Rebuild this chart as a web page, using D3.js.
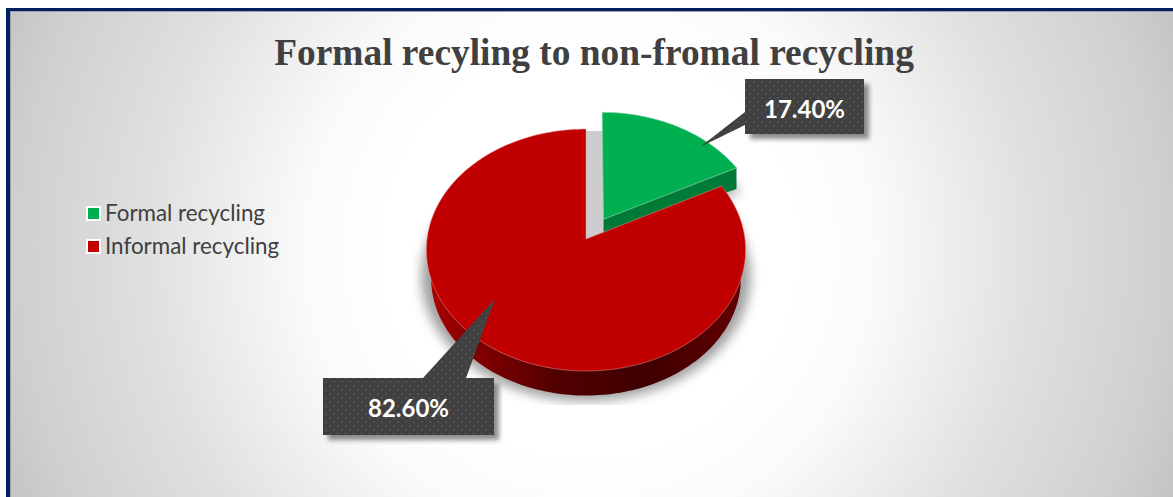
<!DOCTYPE html>
<html>
<head>
<meta charset="utf-8">
<script src="https://cdn.jsdelivr.net/npm/d3@7"></script>
<style>
  html, body { margin: 0; padding: 0; background: #fff; overflow: hidden; }
  svg { display: block; }
</style>
</head>
<body>
<svg id="chart" width="1173" height="497"></svg>
<script>
const chartTitle = "Formal recyling to non-fromal recycling";
const categories = ["Formal recycling", "Informal recycling"];
const shares = [17.4, 82.6];
const faceColors = ["#00b050", "#c00000"];
const wallColors = ["#007a37", "#500000"];

const svg = d3.select("#chart");
const defs = svg.append("defs");

// Panel background: pale centre fading to grey corners
const bg = defs.append("radialGradient").attr("id", "panelFill")
  .attr("gradientUnits", "userSpaceOnUse")
  .attr("cx", 590).attr("cy", 250).attr("r", 640);
[[0.32, "#ffffff"], [0.45, "#fafafa"], [0.69, "#e0e0e0"], [0.9, "#cfcfcf"], [1, "#c2c2c2"]]
  .forEach(([o, c]) => bg.append("stop").attr("offset", o).attr("stop-color", c));

// Side wall of the large slice, lit from the left
const wall = defs.append("linearGradient").attr("id", "redWall")
  .attr("gradientUnits", "userSpaceOnUse")
  .attr("x1", 426).attr("x2", 746).attr("y1", 0).attr("y2", 0);
[[0, "#b00000"], [0.12, "#8a0000"], [0.4, "#520000"], [0.7, "#3f0000"], [1, "#640000"]]
  .forEach(([o, c]) => wall.append("stop").attr("offset", o).attr("stop-color", c));

defs.append("filter").attr("id", "softShadow")
  .attr("x", "-20%").attr("y", "-20%").attr("width", "140%").attr("height", "140%")
  .append("feGaussianBlur").attr("stdDeviation", 6);
defs.append("filter").attr("id", "boxShadow")
  .attr("x", "-20%").attr("y", "-30%").attr("width", "140%").attr("height", "160%")
  .append("feGaussianBlur").attr("stdDeviation", 2.5);

// Dotted fill for the callouts
const dots = defs.append("pattern").attr("id", "dotFill")
  .attr("patternUnits", "userSpaceOnUse").attr("width", 8).attr("height", 8);
dots.append("rect").attr("width", 8).attr("height", 8).attr("fill", "#404040");
dots.append("circle").attr("cx", 2).attr("cy", 2).attr("r", 0.9).attr("fill", "#585858");
dots.append("circle").attr("cx", 6).attr("cy", 6).attr("r", 0.9).attr("fill", "#585858");

defs.append("clipPath").attr("id", "shadowClip")
  .append("rect").attr("x", 380).attr("y", 100).attr("width", 420).attr("height", 305);

// Panel and its navy frame (top and left only)
svg.append("rect").attr("x", 6).attr("y", 8).attr("width", 1167).attr("height", 489).attr("fill", "url(#panelFill)");
svg.append("rect").attr("x", 6).attr("y", 8).attr("width", 1167).attr("height", 3).attr("fill", "#002060");
svg.append("rect").attr("x", 6).attr("y", 8).attr("width", 4).attr("height", 489).attr("fill", "#002060");
svg.append("rect").attr("x", 10).attr("y", 11).attr("width", 1163).attr("height", 1).attr("fill", "#9aa3b5");
svg.append("rect").attr("x", 10).attr("y", 11).attr("width", 1).attr("height", 486).attr("fill", "#9aa3b5");

svg.append("text")
  .attr("x", 594).attr("y", 65).attr("text-anchor", "middle")
  .attr("font-family", "'Liberation Serif', serif").attr("font-weight", 700)
  .attr("font-size", 37.4).attr("fill", "#404040")
  .text(chartTitle);

// Legend
const legend = svg.append("g").selectAll("g").data(categories).join("g")
  .attr("transform", (d, i) => `translate(86,${206 + i * 33})`);
legend.append("rect").attr("width", 15).attr("height", 15).attr("fill", "#fff");
legend.append("rect").attr("x", 2).attr("y", 2).attr("width", 11).attr("height", 11)
  .attr("fill", (d, i) => faceColors[i]);
legend.append("text")
  .attr("x", 19).attr("y", 14.5)
  .attr("font-family", "Lato, sans-serif").attr("font-size", 22.4).attr("fill", "#404040")
  .text(d => d);

// Pie geometry: a tilted disc under perspective
const apex = { x: 586, y: 239 };
const radius = 159, tilt = 120, perspective = 0.0909, explode = 0.19;
const greenNudge = [2, -0.5];

function project(u, v) {
  const w = 1 + perspective * v;
  return [apex.x + radius * u / w, apex.y - tilt * v / w];
}

const arcs = d3.pie().sort(null).value(d => d)(shares);
// Outline of a slice in disc coordinates, from its apex round the rim
function sliceOutline(a, offset) {
  const n = Math.max(8, Math.ceil((a.endAngle - a.startAngle) * 40));
  const pts = [[offset[0], offset[1]]];
  d3.range(n + 1).forEach(i => {
    const t = a.startAngle + (a.endAngle - a.startAngle) * i / n;
    pts.push([offset[0] + Math.sin(t), offset[1] + Math.cos(t)]);
  });
  return pts;
}
const line = d3.line();
const closed = pts => line(pts) + "Z";

const mid = a => (a.startAngle + a.endAngle) / 2;
const greenOffset = [explode * Math.sin(mid(arcs[0])), explode * Math.cos(mid(arcs[0]))];
const greenOutline = sliceOutline(arcs[0], greenOffset);
const redOutline = sliceOutline(arcs[1], [0, 0]);
const greenTop = greenOutline.map(p => {
  const q = project(p[0], p[1]);
  return [q[0] + greenNudge[0], q[1] + greenNudge[1]];
});
const redTop = redOutline.map(p => project(p[0], p[1]));

// Lower rim of the large slice: slightly smaller and shifted down
const baseScale = 0.97, baseDrop = 28.5;
const redBase = redTop.map(p => [apex.x + (p[0] - apex.x) * baseScale, apex.y + baseDrop + (p[1] - apex.y) * baseScale]);

// Soft cast shadow below the pie
const shadowPts = redTop.map(p => [apex.x + (p[0] - apex.x) * 1.03, apex.y + 26 + (p[1] - apex.y) * 1.03]);
svg.append("g").attr("clip-path", "url(#shadowClip)")
  .append("path").attr("d", closed(shadowPts))
  .attr("fill", "#000").attr("opacity", 0.38).attr("filter", "url(#softShadow)");
svg.append("path")
  .attr("d", closed(greenTop.map(p => [p[0] + 5, p[1] + 24])))
  .attr("fill", "#000").attr("opacity", 0.3).attr("filter", "url(#softShadow)");

// Grey gap between the separated slice and the main body
const greenApex = greenTop[0], redApex = redTop[0];
svg.append("path")
  .attr("d", closed([[redApex[0], 131], [greenApex[0], 131], [greenApex[0], greenApex[1] + 14], redApex]))
  .attr("fill", "#cdcdcd");

// Separated slice: cut wall along its lower edge, then the top face
const greenDepth = p => {
  const r = Math.hypot(p[0] - greenApex[0], p[1] - greenApex[1]) / radius;
  return 14 + 8 * r;
};
const greenTip = greenTop[greenTop.length - 1];
const lowered = p => [p[0], p[1] + greenDepth(p)];
svg.append("path")
  .attr("d", closed([greenApex, greenTip, lowered(greenTip), lowered(greenApex)]))
  .attr("fill", wallColors[0]);
svg.append("path").attr("d", closed(greenTop)).attr("fill", faceColors[0])
  .attr("stroke", "#7fd6a6").attr("stroke-width", 0.6);

// Main slice: wall then top face
svg.append("path").attr("d", closed(redBase)).attr("fill", "url(#redWall)");
svg.append("path").attr("d", closed(redTop)).attr("fill", faceColors[1])
  .attr("stroke", "#e89a9a").attr("stroke-width", 0.5);

// Value callouts
const fmt = d => d3.format(".2f")(d) + "%";
const callouts = [
  { value: shares[0], box: [745, 79, 119, 55], stem: [[745, 112], [700, 147], [745, 125]], size: 24, ty: 118 },
  { value: shares[1], box: [323, 378, 171, 57], stem: [[423, 378], [495, 299], [466, 378]], size: 24, ty: 417 }
];
const outline = c => {
  const [x, y, w, h] = c.box;
  return [[x, y], [x + w, y], [x + w, y + h], [x, y + h]];
};
const callout = svg.append("g").selectAll("g").data(callouts).join("g");
callout.append("path")
  .attr("d", c => closed(outline(c).map(p => [p[0] + 5, p[1] + 5])))
  .attr("fill", "#000").attr("opacity", 0.45).attr("filter", "url(#boxShadow)");
callout.append("path").attr("d", c => closed(c.stem)).attr("fill", "url(#dotFill)");
callout.append("path").attr("d", c => closed(outline(c))).attr("fill", "url(#dotFill)");
callout.append("text")
  .attr("x", c => c.box[0] + c.box[2] / 2).attr("y", c => c.ty)
  .attr("text-anchor", "middle")
  .attr("font-family", "Lato, sans-serif").attr("font-weight", 700)
  .attr("font-size", c => c.size).attr("fill", "#fff")
  .text(c => fmt(c.value));
</script>
</body>
</html>
